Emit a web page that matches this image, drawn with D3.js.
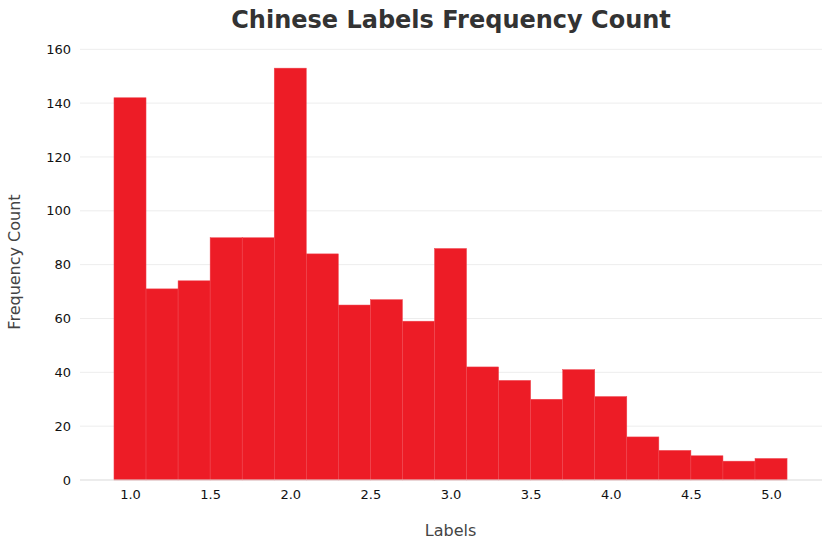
<!DOCTYPE html>
<html><head><meta charset="utf-8">
<script src="https://cdn.jsdelivr.net/npm/d3@7"></script>
<style>body{margin:0;background:#fff;} text{font-family:"DejaVu Sans",sans-serif;}</style>
</head><body>
<svg id="chart" width="831" height="549"></svg>
<script>
const binStarts = [0.9,1.1,1.3,1.5,1.7,1.9,2.1,2.3,2.5,2.7,2.9,3.1,3.3,3.5,3.7,3.9,4.1,4.3,4.5,4.7,4.9];
const counts = [142,71,74,90,90,153,84,65,67,59,86,42,37,30,41,31,16,11,9,7,8];
const binWidth = 0.2;
const xTicks = [1.0,1.5,2.0,2.5,3.0,3.5,4.0,4.5,5.0];
const yTicks = [0,20,40,60,80,100,120,140,160];

(function(){
const svg = d3.select("#chart");
const mL = 80, mR = 822, mT = 49.3, mB = 480;
const x = d3.scaleLinear().domain([0.688, 5.318]).range([mL, mR]);
const y = d3.scaleLinear().domain([0, 160]).range([mB, mT]);

// grid
svg.append("g").selectAll("line").data(yTicks.filter(d=>d>0)).join("line")
  .attr("x1", mL).attr("x2", mR)
  .attr("y1", d=>y(d)).attr("y2", d=>y(d))
  .attr("stroke", "#ededed").attr("stroke-width", 1);

// bars
svg.append("g").selectAll("rect").data(binStarts).join("rect")
  .attr("x", d=>x(d)).attr("width", d=>x(d+binWidth)-x(d))
  .attr("y", (d,i)=>y(counts[i])).attr("height", (d,i)=>y(0)-y(counts[i]))
  .attr("fill", "#ed1c26")
  .attr("stroke", "#f04650").attr("stroke-width", 0.5);

// baseline
svg.append("line").attr("x1", mL).attr("x2", mR).attr("y1", mB).attr("y2", mB)
  .attr("stroke", "#d9d9d9").attr("stroke-width", 1);

// y axis
const yAxis = d3.axisLeft(y).tickValues(yTicks).tickSize(0).tickPadding(9).tickFormat(d3.format("d"));
const gy = svg.append("g").attr("transform", `translate(${mL},0)`).call(yAxis);
gy.select(".domain").remove();
gy.selectAll("text").attr("font-size", 13).attr("fill", "#111").style("font-family", "DejaVu Sans");

// x axis
const xAxis = d3.axisBottom(x).tickValues(xTicks).tickSize(0).tickPadding(10).tickFormat(d3.format(".1f"));
const gx = svg.append("g").attr("transform", `translate(0,${mB})`).call(xAxis);
gx.select(".domain").remove();
gx.selectAll("text").attr("font-size", 13).attr("fill", "#111").style("font-family", "DejaVu Sans");

// title
svg.append("text").attr("x", 451).attr("y", 28).attr("text-anchor", "middle")
  .attr("font-size", 24).attr("font-weight", "bold").attr("fill", "#333")
  .text("Chinese Labels Frequency Count");

// axis labels
svg.append("text").attr("x", 450.5).attr("y", 536).attr("text-anchor", "middle")
  .attr("font-size", 16).attr("fill", "#444").text("Labels");
svg.append("text").attr("transform", "translate(19.5,262) rotate(-90)").attr("text-anchor", "middle")
  .attr("font-size", 16).attr("fill", "#444").text("Frequency Count");
})();
</script>
</body></html>
